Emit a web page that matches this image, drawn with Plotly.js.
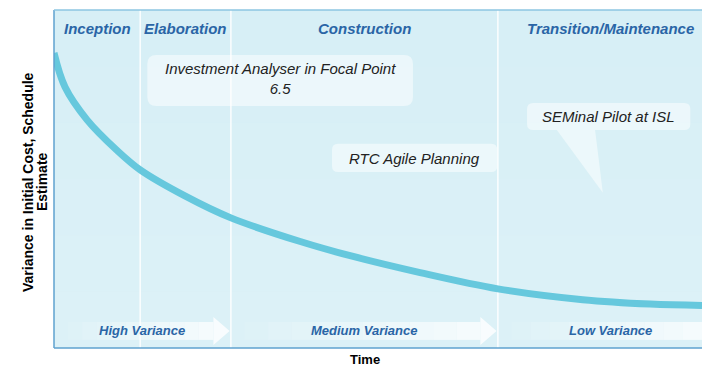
<!DOCTYPE html>
<html>
<head>
<meta charset="utf-8">
<script src="https://cdn.plot.ly/plotly-3.0.1.min.js"></script>
<style>
  html, body { margin: 0; padding: 0; background: #fff; }
  #chart { width: 702px; height: 369px; }
</style>
</head>
<body>
<div id="chart"></div>
<script>
// variance curve (time 0-100, variance 0-100)
var timeX = [0, 1.7, 5.1, 9.7, 13.3, 20.2, 27.3, 38.0, 45.7, 56.5, 68.5, 81.6, 92.0, 100];
var variance = [87.3, 77.2, 67.5, 58.5, 52.7, 45.0, 38.5, 31.5, 27.3, 22.3, 17.5, 14.3, 13.0, 12.6];

// project phases and where they end on the time axis
var phaseNames = ['Inception', 'Elaboration', 'Construction', 'Transition/Maintenance'];
var phaseEdges = [0, 13.3, 27.3, 68.5, 100];

// variance levels, each covering a span of time
var levelNames = ['High Variance', 'Medium Variance', 'Low Variance'];
var levelStart = [0, 27.3, 68.5];
var levelEnd = [27.3, 68.5, 100];

// tools placed on the chart
var noteText = ['Investment Analyser in Focal Point<br>6.5', 'RTC Agile Planning', 'SEMinal Pilot at ISL'];

var blue = '#2a65a6';
var font = 'Liberation Sans, Arial, sans-serif';
// px per data unit (plot area is 648 x 338)
var kx = 6.48, ky = 3.38;

function roundRect(x0, x1, y0, y1, r) {
  var rx = r / kx, ry = r / ky;
  return 'M' + (x0 + rx) + ',' + y1 + ' L' + (x1 - rx) + ',' + y1 +
    ' Q' + x1 + ',' + y1 + ' ' + x1 + ',' + (y1 - ry) +
    ' L' + x1 + ',' + (y0 + ry) + ' Q' + x1 + ',' + y0 + ' ' + (x1 - rx) + ',' + y0 +
    ' L' + (x0 + rx) + ',' + y0 + ' Q' + x0 + ',' + y0 + ' ' + x0 + ',' + (y0 + ry) +
    ' L' + x0 + ',' + (y1 - ry) + ' Q' + x0 + ',' + y1 + ' ' + (x0 + rx) + ',' + y1 + ' Z';
}

var shapes = [];
var annotations = [];

// soft vertical gradient of the background
for (var g = 0; g < 6; g++) {
  shapes.push({
    type: 'rect', xref: 'paper', yref: 'paper', layer: 'below',
    x0: 0, x1: 1, y0: g / 6, y1: (g + 1) / 6,
    fillcolor: 'rgba(255,255,255,' + (0.16 - g * 0.025) + ')', line: { width: 0 }
  });
}

// phase dividers and labels
for (var i = 0; i < phaseNames.length; i++) {
  if (i > 0) {
    shapes.push({
      type: 'line', xref: 'x', yref: 'paper', layer: 'below',
      x0: phaseEdges[i], x1: phaseEdges[i], y0: 0, y1: 1,
      line: { color: 'rgba(255,255,255,0.9)', width: 1.5 }
    });
  }
  var cx = (phaseEdges[i] + phaseEdges[i + 1]) / 2;
  if (i === phaseNames.length - 1) cx += 1.6;
  annotations.push({
    x: cx, y: 94.4, xref: 'x', yref: 'y', text: phaseNames[i], showarrow: false,
    font: { family: font, size: 15, color: blue, weight: 'bold', style: 'italic' }
  });
}

// arrow bands along the bottom, fading in from the left
for (var j = 0; j < levelNames.length; j++) {
  var a0 = levelStart[j] + 2.1;
  var head = levelEnd[j] - 2.7;
  var tip = levelEnd[j] - 0.2;
  var last = j === levelNames.length - 1;
  if (last) head = levelEnd[j];
  var n = 10;
  for (var s = 0; s < n; s++) {
    var sx0 = a0 + (head - a0) * s / n;
    var sx1 = a0 + (head - a0) * (s + 1) / n;
    shapes.push({
      type: 'rect', xref: 'x', yref: 'y', layer: 'below',
      x0: sx0, x1: sx1, y0: 2.4, y1: 7.7,
      fillcolor: 'rgba(255,255,255,' + (0.08 + 0.07 * s) + ')', line: { width: 0 }
    });
  }
  if (!last) {
    shapes.push({
      type: 'path', xref: 'x', yref: 'y', layer: 'below',
      path: 'M' + head + ',9.2 L' + tip + ',5.05 L' + head + ',0.9 Z',
      fillcolor: 'rgba(255,255,255,0.8)', line: { width: 0 }
    });
  }
  annotations.push({
    x: (levelStart[j] + levelEnd[j]) / 2 + (last ? 1.6 : 0), y: 5.3, xref: 'x', yref: 'y',
    text: levelNames[j], showarrow: false,
    font: { family: font, size: 13, color: blue, weight: 'bold', style: 'italic' }
  });
}

// callout boxes
var noteFill = 'rgba(255,255,255,0.5)';
shapes.push({ type: 'path', xref: 'x', yref: 'y', layer: 'below',
  path: roundRect(14.4, 55.4, 71.6, 86.7, 9), fillcolor: noteFill, line: { width: 0 } });
shapes.push({ type: 'path', xref: 'x', yref: 'y', layer: 'below',
  path: roundRect(42.9, 68.4, 52.1, 60.4, 6), fillcolor: noteFill, line: { width: 0 } });
shapes.push({ type: 'path', xref: 'x', yref: 'y', layer: 'below',
  path: roundRect(73.0, 98.2, 64.5, 72.5, 6), fillcolor: noteFill, line: { width: 0 } });
shapes.push({ type: 'path', xref: 'x', yref: 'y', layer: 'below',
  path: 'M77.6,64.5 L84.7,45.9 L83.5,64.5 Z', fillcolor: noteFill, line: { width: 0 } });

annotations.push({ x: 34.9, y: 79.6, xref: 'x', yref: 'y', text: noteText[0], showarrow: false,
  font: { family: font, size: 15, color: '#222', style: 'italic' } });
annotations.push({ x: 55.6, y: 56.2, xref: 'x', yref: 'y', text: noteText[1], showarrow: false,
  font: { family: font, size: 15, color: '#222', style: 'italic' } });
annotations.push({ x: 85.6, y: 68.6, xref: 'x', yref: 'y', text: noteText[2], showarrow: false,
  font: { family: font, size: 15, color: '#222', style: 'italic' } });

// frame: left, top, bottom
shapes.push({ type: 'line', xref: 'paper', yref: 'paper', x0: 0, x1: 0, y0: 0, y1: 1,
  line: { color: '#5fa2cf', width: 1.5 } });
shapes.push({ type: 'line', xref: 'paper', yref: 'paper', x0: 0, x1: 1, y0: 0, y1: 0,
  line: { color: '#5fa2cf', width: 1.5 } });
shapes.push({ type: 'line', xref: 'paper', yref: 'paper', x0: 0, x1: 1, y0: 1, y1: 1,
  line: { color: '#8cc6e2', width: 1.5 } });

// axis titles
var titleFont = { family: font, size: 14, color: '#000', weight: 'bold' };
annotations.push({ x: 48, y: 0, xref: 'x', yref: 'paper', yanchor: 'top', yshift: -2,
  text: 'Time', showarrow: false, font: { family: font, size: 13, color: '#000', weight: 'bold' } });
annotations.push({ x: 0, y: 0.5, xref: 'paper', yref: 'paper', xanchor: 'center', yanchor: 'middle',
  xshift: -26, yshift: -3, textangle: -90, text: 'Variance in Initial Cost, Schedule', showarrow: false, font: titleFont });
annotations.push({ x: 0, y: 0.5, xref: 'paper', yref: 'paper', xanchor: 'center', yanchor: 'middle',
  xshift: -12, yshift: -3, textangle: -90, text: 'Estimate', showarrow: false, font: titleFont });

var curve = {
  x: timeX, y: variance, type: 'scatter', mode: 'lines',
  line: { color: '#66c8dd', width: 7, shape: 'spline', smoothing: 1 },
  hoverinfo: 'skip'
};

var layout = {
  width: 702, height: 369,
  margin: { l: 54, r: 0, t: 10, b: 21 },
  paper_bgcolor: '#ffffff',
  plot_bgcolor: '#d6eff6',
  showlegend: false,
  font: { family: font },
  xaxis: { range: [0, 100], showgrid: false, zeroline: false, showticklabels: false, ticks: '', showline: false },
  yaxis: { range: [0, 100], showgrid: false, zeroline: false, showticklabels: false, ticks: '', showline: false },
  shapes: shapes,
  annotations: annotations
};

Plotly.newPlot('chart', [curve], layout, { displayModeBar: false, staticPlot: true });
</script>
</body>
</html>
